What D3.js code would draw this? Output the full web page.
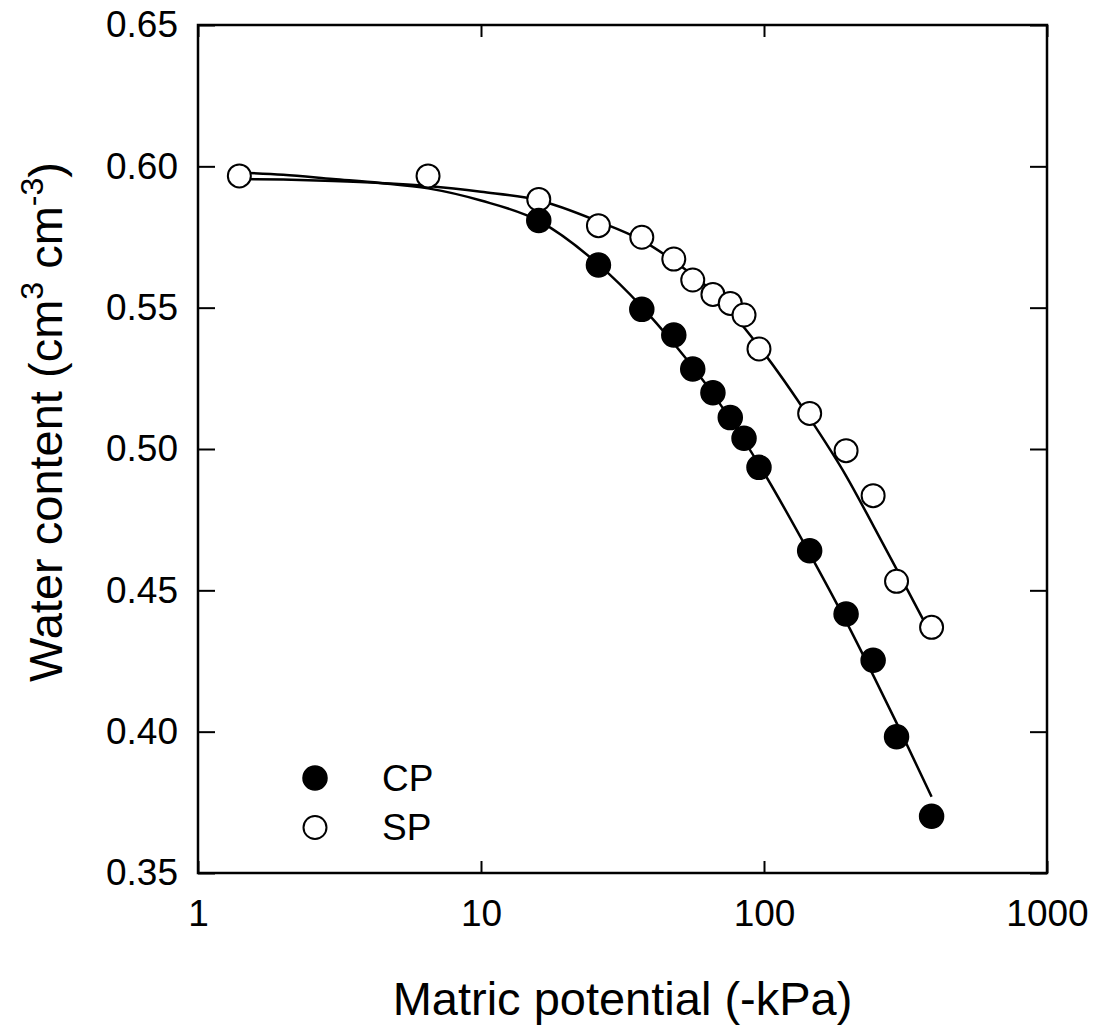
<!DOCTYPE html>
<html lang="en">
<head>
<meta charset="UTF-8">
<title>Water retention</title>
<script src="https://d3js.org/d3.v7.min.js"></script>
<style>
  body { margin: 0; padding: 0; background: #fff; }
  svg { display: block; font-family: "Liberation Sans", Arial, sans-serif; }
</style>
</head>
<body>
<svg id="chart"></svg>
<script>
// measured points
let cpPot = [16, 26, 37, 48, 56, 66, 76, 85, 96, 145, 195, 243, 294, 391]
let cpTheta = [0.5808, 0.5651, 0.5494, 0.5403, 0.5283, 0.5199, 0.5111, 0.5038, 0.4935, 0.464, 0.4416, 0.4253, 0.3982, 0.3701]
let spPot = [1.4, 6.5, 16, 26, 37, 48, 56, 66, 76, 85, 96, 145, 195, 243, 294, 391]
let spTheta = [0.5966, 0.5966, 0.5883, 0.579, 0.5749, 0.5672, 0.5598, 0.5547, 0.5515, 0.5474, 0.5354, 0.5126, 0.4994, 0.4835, 0.4532, 0.4369]

// fitted curves
let fitPot = [1.4, 2, 3, 4.4, 6.5, 10, 16, 26, 37, 48, 66, 96, 145, 195, 243, 294, 391]
let cpFit = [0.5978, 0.5970, 0.5955, 0.5941, 0.5922, 0.5879, 0.5807, 0.5653, 0.5503, 0.5373, 0.5195, 0.4945, 0.4630, 0.4390, 0.4200, 0.4031, 0.3770]
let spFit = [0.5955, 0.5953, 0.5948, 0.5941, 0.5930, 0.5910, 0.5880, 0.5805, 0.5738, 0.5665, 0.5555, 0.5363, 0.5109, 0.4905, 0.4730, 0.4575, 0.4340]

let xTicks = [1, 10, 100, 1000]
let yTicks = [0.35, 0.40, 0.45, 0.50, 0.55, 0.60, 0.65]

let W = 1097, H = 1028
let m = {left: 198, right: 50, top: 25, bottom: 155}
let w = W - m.left - m.right
let h = H - m.top - m.bottom

let svg = d3.select("#chart").attr("width", W).attr("height", H)
let g = svg.append("g").attr("transform", `translate(${m.left},${m.top})`)

let x = d3.scaleLog().domain([1, 1000]).range([0, w])
let y = d3.scaleLinear().domain([0.35, 0.65]).range([h, 0])

function styleAxis(sel, size) {
    sel.select(".domain").remove()
    sel.selectAll("line").attr("stroke", "#000").attr("stroke-width", 2)
    sel.selectAll("text").attr("font-size", size).attr("fill", "#000")
}

g.append("g").attr("transform", `translate(0,${h})`)
    .call(d3.axisBottom(x).tickValues(xTicks).tickFormat(d3.format("d")).tickSize(-12).tickPadding(27))
    .call(s => styleAxis(s, 37))
g.append("g")
    .call(d3.axisTop(x).tickValues(xTicks).tickFormat("").tickSize(-12))
    .call(s => styleAxis(s, 37))
g.append("g")
    .call(d3.axisLeft(y).tickValues(yTicks).tickFormat(d3.format(".2f")).tickSize(-17).tickPadding(20))
    .call(s => styleAxis(s, 37))
g.append("g").attr("transform", `translate(${w},0)`)
    .call(d3.axisRight(y).tickValues(yTicks).tickFormat("").tickSize(-17))
    .call(s => styleAxis(s, 37))

g.append("rect").attr("width", w).attr("height", h)
    .attr("fill", "none").attr("stroke", "#000").attr("stroke-width", 2.5)

let line = d3.line()
    .x((d, i) => x(fitPot[i]))
    .y(d => y(d))
    .curve(d3.curveMonotoneX)

g.append("path").datum(cpFit).attr("d", line)
    .attr("fill", "none").attr("stroke", "#000").attr("stroke-width", 2.5)
g.append("path").datum(spFit).attr("d", line)
    .attr("fill", "none").attr("stroke", "#000").attr("stroke-width", 2.5)

g.selectAll(".sp").data(spPot).enter().append("circle")
    .attr("cx", d => x(d))
    .attr("cy", (d, i) => y(spTheta[i]))
    .attr("r", 11.5)
    .attr("fill", "#fff").attr("stroke", "#000").attr("stroke-width", 2)

g.selectAll(".cp").data(cpPot).enter().append("circle")
    .attr("cx", d => x(d))
    .attr("cy", (d, i) => y(cpTheta[i]))
    .attr("r", 12)
    .attr("fill", "#000").attr("stroke", "#000").attr("stroke-width", 1.5)

// legend
let leg = svg.append("g").attr("transform", "translate(315,778)")
leg.append("circle").attr("r", 12).attr("fill", "#000").attr("stroke", "#000").attr("stroke-width", 1.5)
leg.append("circle").attr("cy", 49.5).attr("r", 11.5).attr("fill", "#fff").attr("stroke", "#000").attr("stroke-width", 2)
leg.append("text").attr("x", 67).attr("y", 13).attr("font-size", 37).text("CP")
leg.append("text").attr("x", 67).attr("y", 62).attr("font-size", 37).text("SP")

// axis titles
svg.append("text").attr("x", m.left + w / 2).attr("y", 1015)
    .attr("text-anchor", "middle").attr("font-size", 47)
    .text("Matric potential (-kPa)")

let yt = svg.append("text")
    .attr("transform", `translate(62,${m.top + h / 2 - 27}) rotate(-90)`)
    .attr("text-anchor", "middle").attr("font-size", 47)
yt.append("tspan").text("Water content (cm")
yt.append("tspan").attr("font-size", 32).attr("dy", -19).text("3")
yt.append("tspan").attr("dy", 19).text(" cm")
yt.append("tspan").attr("font-size", 32).attr("dy", -19).text("-3")
yt.append("tspan").attr("dy", 19).text(")")
</script>
</body>
</html>
